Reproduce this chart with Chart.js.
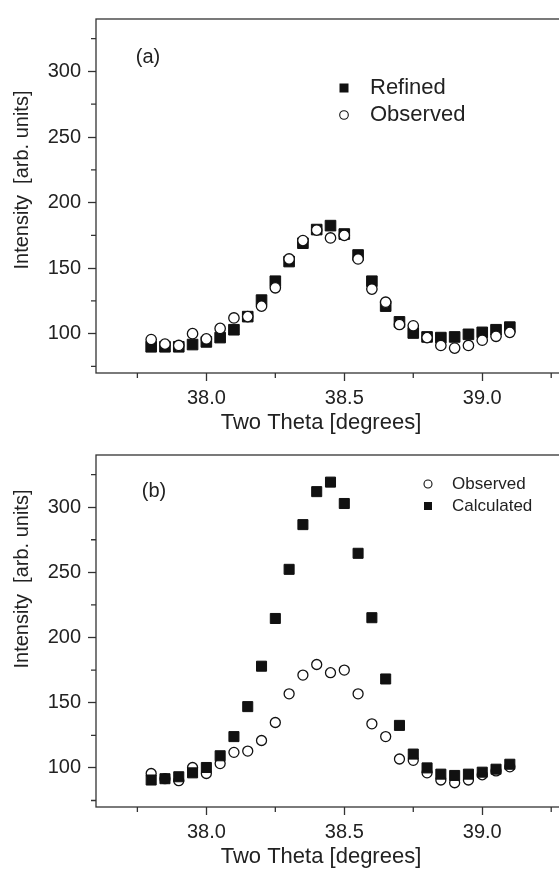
<!DOCTYPE html>
<html>
<head>
<meta charset="utf-8">
<script src="https://cdn.jsdelivr.net/npm/chart.js@4.4.0/dist/chart.umd.min.js"></script>
<style>
html, body { margin: 0; padding: 0; background: #fff; overflow: hidden; width: 559px; height: 872px; }
canvas { display: block; }
</style>
</head>
<body>
<canvas id="panelA" width="600" height="436"></canvas>
<canvas id="panelB" width="600" height="436"></canvas>
<script>
// 2-theta positions (degrees)
const twoTheta = [37.80, 37.85, 37.90, 37.95, 38.00, 38.05, 38.10, 38.15, 38.20, 38.25,
                  38.30, 38.35, 38.40, 38.45, 38.50, 38.55, 38.60, 38.65, 38.70, 38.75,
                  38.80, 38.85, 38.90, 38.95, 39.00, 39.05, 39.10];

// panel (a)
const refined = [90, 90, 90, 91.7, 93.7, 97, 103, 113, 125.6, 140,
                 155, 169, 179.4, 182.4, 176, 160, 140, 121, 109, 100.5,
                 97.5, 97, 97.5, 99.5, 101, 103, 105];
const observedA = [95.5, 92, 91, 100, 96, 104, 112, 113, 121, 135,
                   157, 171, 179, 173, 175, 157, 134, 124, 107, 106,
                   97, 91, 89, 91, 95, 98, 101];

// panel (b)
const observedB = [95.7, 91.7, 90.2, 100.3, 95.7, 103.3, 111.9, 112.9, 121, 134.8,
                   156.8, 171.2, 179.3, 173, 175, 156.8, 133.8, 124, 106.8, 105.8,
                   96.2, 90.7, 88.6, 90.7, 94.7, 97.7, 100.8];
const calculated = [90.7, 91.7, 93.2, 96.2, 100.3, 109.3, 124, 147, 178, 214.6,
                    252.3, 286.6, 311.9, 319.2, 302.8, 264.6, 215.2, 168.2, 132.6, 110.6,
                    100, 95.2, 94.2, 95.2, 96.7, 99, 102.8];

const xTicks = [38.0, 38.5, 39.0];
const xMinorTicks = [37.75, 38.25, 38.75, 39.25];
const yTicks = [100, 150, 200, 250, 300];
const yMinorTicks = [75, 125, 175, 225, 275, 325];

const FONT = '"Liberation Sans", Arial, Helvetica, sans-serif';
const INK = '#222';

function pts(ys) {
    return twoTheta.map((x, i) => ({ x: x, y: ys[i] }));
}

function squareSet(label, ys, r) {
    return { label: label, data: pts(ys), pointStyle: 'rect', pointRadius: r,
             backgroundColor: '#111', borderColor: '#111', borderWidth: 1, showLine: false };
}

function circleSet(label, ys, r) {
    return { label: label, data: pts(ys), pointStyle: 'circle', pointRadius: r,
             backgroundColor: '#fff', borderColor: '#111', borderWidth: 1.3, showLine: false };
}

// frame, minor ticks, titles, panel tag and legend
const decorPlugin = {
    id: 'decor',
    afterDraw(chart, args, o) {
        const { ctx, chartArea: a } = chart;
        const x = chart.scales.x, y = chart.scales.y;
        ctx.save();
        ctx.strokeStyle = '#333';
        ctx.lineWidth = 1.3;
        ctx.strokeRect(a.left, a.top, a.right - a.left, a.bottom - a.top);
        ctx.beginPath();
        xMinorTicks.forEach(v => {
            const px = x.getPixelForValue(v);
            ctx.moveTo(px, a.bottom); ctx.lineTo(px, a.bottom + 5);
        });
        yMinorTicks.forEach(v => {
            const py = y.getPixelForValue(v);
            ctx.moveTo(a.left, py); ctx.lineTo(a.left - 5, py);
        });
        ctx.stroke();

        ctx.fillStyle = INK;
        ctx.textBaseline = 'middle';
        ctx.textAlign = 'center';
        ctx.font = '22px ' + FONT;
        ctx.fillText('Two Theta [degrees]', 321, o.xTitleY);
        ctx.save();
        ctx.translate(22, o.yTitleY);
        ctx.rotate(-Math.PI / 2);
        ctx.font = '20px ' + FONT;
        ctx.fillText('Intensity  [arb. units]', 0, 0);
        ctx.restore();

        ctx.font = '20px ' + FONT;
        ctx.fillText(o.tag, o.tagX, o.tagY);

        ctx.textAlign = 'left';
        ctx.font = o.legendFont + 'px ' + FONT;
        o.legend.forEach(item => {
            if (item.kind === 'rect') {
                ctx.fillStyle = '#111';
                ctx.fillRect(o.markX - item.size / 2, item.y - item.size / 2, item.size, item.size);
            } else {
                ctx.beginPath();
                ctx.arc(o.markX, item.y, item.size / 2, 0, Math.PI * 2);
                ctx.fillStyle = '#fff';
                ctx.fill();
                ctx.lineWidth = 1.1;
                ctx.strokeStyle = '#111';
                ctx.stroke();
            }
            ctx.fillStyle = INK;
            ctx.fillText(item.text, o.textX, item.y);
        });
        ctx.restore();
    }
};

function makePanel(id, datasets, topPad, decor) {
    const ctx = document.querySelector('#' + id);
    new Chart(ctx, {
        type: 'scatter',
        data: { datasets: datasets },
        plugins: [decorPlugin],
        options: {
            responsive: false,
            animation: false,
            layout: { padding: { top: topPad, right: 35, left: 0, bottom: 0 } },
            plugins: { legend: { display: false }, tooltip: { enabled: false }, decor: decor },
            scales: {
                x: {
                    type: 'linear', min: 37.6, max: 39.3,
                    afterBuildTicks: s => { s.ticks = xTicks.map(v => ({ value: v })); },
                    afterFit: s => { s.height = 436 - topPad - 358; },
                    grid: { drawOnChartArea: false, tickLength: 8, tickColor: '#333', tickWidth: 1.3 },
                    border: { display: false },
                    ticks: { color: INK, font: { family: FONT, size: 20 }, padding: 5,
                             maxRotation: 0, callback: v => v.toFixed(1) }
                },
                y: {
                    type: 'linear', min: 70, max: 340,
                    afterBuildTicks: s => { s.ticks = yTicks.map(v => ({ value: v })); },
                    afterFit: s => { s.width = 96; },
                    grid: { drawOnChartArea: false, tickLength: 8, tickColor: '#333', tickWidth: 1.3 },
                    border: { display: false },
                    ticks: { color: INK, font: { family: FONT, size: 20 }, padding: 7 }
                }
            }
        }
    });
}

makePanel('panelA',
    [circleSet('Observed', observedA, 5.2), squareSet('Refined', refined, 7.5)],
    15,
    { xTitleY: 423, yTitleY: 180, tag: '(a)', tagX: 148, tagY: 57,
      legendFont: 22, markX: 344, textX: 370,
      legend: [{ kind: 'rect', size: 9, y: 88, text: 'Refined' },
               { kind: 'circle', size: 8.6, y: 115, text: 'Observed' }] });

makePanel('panelB',
    [squareSet('Calculated', calculated, 7.1), circleSet('Observed', observedB, 5)],
    13,
    { xTitleY: 421, yTitleY: 143, tag: '(b)', tagX: 154, tagY: 55,
      legendFont: 17, markX: 428, textX: 452,
      legend: [{ kind: 'circle', size: 8, y: 48, text: 'Observed' },
               { kind: 'rect', size: 8, y: 70, text: 'Calculated' }] });
</script>
</body>
</html>
